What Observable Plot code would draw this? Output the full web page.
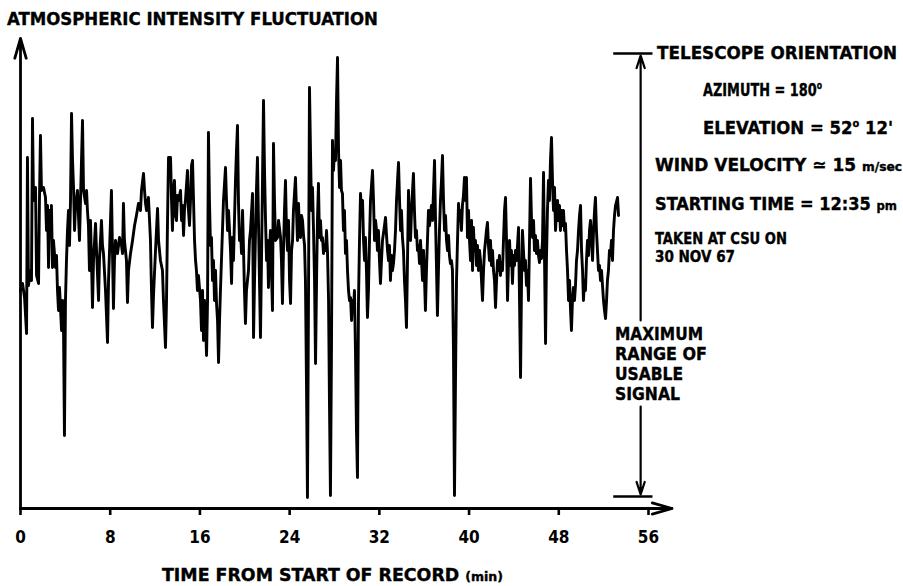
<!DOCTYPE html>
<html><head><meta charset="utf-8">
<script src="https://cdn.jsdelivr.net/npm/d3@7"></script>
<script src="https://cdn.jsdelivr.net/npm/@observablehq/plot@0.6"></script>
<style>
html,body{margin:0;padding:0;background:#fff;}
#chart{position:relative;width:903px;height:586px;overflow:hidden;background:#fff;}
#chart svg{position:absolute;left:0;top:0;}
.lbl{position:absolute;white-space:nowrap;font-family:"DejaVu Sans Condensed","DejaVu Sans",sans-serif;font-stretch:condensed;font-weight:bold;color:#000;line-height:0.8;transform-origin:0 0;-webkit-text-stroke:0.35px #000;}
.u{font-size:0.72em;}
</style></head><body><div id="chart"></div>
<script>
// ---- signal: time from start of record (min) and intensity (arbitrary units)
const timeA = [0.00,0.18,0.36,0.54,0.62,0.71,0.89,0.98,1.07,1.16,1.34,1.43,1.61,1.69,1.78,1.87,2.05,2.23,2.32,2.41,2.50,2.59,2.68,2.76,2.85,2.94,3.03,3.12,3.21,3.30,3.39,3.48,3.66,3.75,3.83,3.92,4.01,4.10,4.19,4.28,4.37,4.46,4.55,4.64,4.73,4.82,4.90,5.08,5.26,5.35,5.53,5.62,5.80,5.89,5.97,6.06,6.15,6.24,6.33,6.42,6.51,6.69,6.78,6.96,7.04,7.22,7.31,7.40,7.58,7.76,7.85,7.94,8.11,8.20,8.29,8.38,8.47,8.65,8.83,9.01,9.10,9.18,9.27,9.45,9.54,9.63,9.81,9.99,10.17,10.34,10.52,10.70,10.79,10.97,11.06,11.15,11.24,11.41,11.59,11.68,11.77,11.86,12.04,12.22,12.31,12.48,12.66,12.75,12.93,13.02,13.11,13.20];
const intensityA = [21.8,22.5,21.1,17.5,35.1,22.3,23.8,22.8,39.0,30.8,32.1,23.3,22.5,30.8,37.3,31.8,32.1,31.1,27.8,30.3,24.1,29.8,27.1,30.3,24.1,26.8,25.5,24.1,25.3,21.8,19.8,22.1,17.8,20.8,18.8,7.3,20.8,24.8,27.8,29.8,26.3,30.8,39.5,34.8,32.1,27.8,30.1,31.8,26.8,30.8,38.8,31.8,30.5,31.8,29.8,28.3,23.8,28.8,24.8,20.1,24.8,28.5,25.8,20.8,24.8,28.8,26.3,25.5,21.8,16.6,22.8,25.8,31.8,25.8,20.0,24.8,26.8,25.5,27.1,26.3,25.5,30.5,26.8,24.8,20.6,23.8,25.5,26.8,28.3,29.3,30.5,29.8,31.8,33.5,31.8,30.5,29.8,31.1,26.8,21.8,18.1,21.3,25.8,30.0,26.8,24.8,23.8,20.8,16.1,20.8,28.8,35.1];

const timeB = [13.38,13.47,13.55,13.64,13.73,13.82,13.91,14.00,14.09,14.27,14.36,14.45,14.54,14.62,14.71,14.89,14.98,15.07,15.16,15.25,15.34,15.43,15.52,15.61,15.69,15.78,15.87,16.05,16.14,16.23,16.32,16.41,16.50,16.59,16.68,16.76,16.85,16.94,17.03,17.12,17.21,17.30,17.39,17.48,17.57,17.66,17.75,17.83,17.92,18.01,18.10,18.28,18.37,18.46,18.55,18.73,18.82,18.90,18.99,19.08,19.17,19.26,19.35,19.44,19.53,19.62,19.71,19.80,19.89,19.97,20.06,20.15,20.33,20.42,20.51,20.69,20.78,20.87,20.96,21.04,21.13,21.22,21.31,21.40,21.49,21.58,21.67,21.76,21.85,21.94,22.03,22.11,22.20,22.29,22.38,22.47,22.56,22.65,22.74,22.92,23.01,23.19,23.27,23.36,23.45,23.54,23.63,23.72,23.81,23.90,23.99,24.08,24.17,24.26,24.34,24.52,24.61,24.70,24.79,24.88,24.97,25.06,25.15,25.24,25.33,25.41,25.50,25.59,25.68,25.77,25.86,25.95,26.04,26.13,26.22,26.31,26.40,26.48,26.57];
const intensityB = [35.1,30.8,27.8,31.8,32.8,29.3,28.8,31.3,30.8,31.8,28.8,30.3,27.3,29.8,30.8,33.8,29.8,28.3,30.8,34.3,34.8,30.8,26.8,24.8,23.8,21.8,23.3,20.8,17.8,21.8,16.8,20.8,18.8,15.3,20.8,37.6,30.8,26.3,27.1,22.8,24.8,20.8,23.8,20.5,18.8,14.6,18.8,21.8,24.8,27.8,30.8,34.1,30.8,27.8,29.8,25.8,22.5,27.1,24.8,28.8,32.8,35.8,38.3,30.5,26.8,27.8,25.5,29.8,25.8,21.8,18.5,21.8,23.8,26.8,27.8,31.5,17.1,22.8,27.8,31.8,35.1,28.8,22.8,17.1,24.8,32.8,40.8,33.8,28.8,24.8,26.8,22.1,25.8,27.8,23.8,19.8,36.5,30.8,26.8,27.1,28.8,27.1,24.8,20.5,25.8,29.8,32.8,27.8,25.8,28.8,22.8,20.5,25.8,26.8,29.8,33.1,29.8,26.8,30.5,27.8,27.1,29.3,28.8,27.3,26.3,22.8,12.8,1.1,20.8,42.1,35.8,29.8,32.1,27.8,22.8,14.5,22.8,28.8,32.5];

const timeC = [26.66,26.75,26.84,26.93,27.02,27.11,27.20,27.29,27.38,27.47,27.55,27.64,27.73,27.82,27.91,28.00,28.09,28.18,28.27,28.36,28.45,28.54,28.62,28.71,28.80,28.89,28.98,29.07,29.16,29.25,29.34,29.43,29.52,29.61,29.69,29.78,29.87,29.96,30.05,30.14,30.23,30.32,30.41,30.50,30.59,30.68,30.76,30.85,30.94,31.03,31.12,31.21,31.30,31.39,31.48,31.57,31.66,31.75,31.83,31.92,32.01,32.10,32.19,32.28,32.46,32.55,32.64,32.73,32.82,32.90,32.99,33.08,33.17,33.26,33.35,33.44,33.53,33.62,33.71,33.80,33.89,33.97,34.06,34.15,34.24,34.33,34.42,34.51,34.60,34.69,34.78,34.87,34.96,35.04,35.13,35.22,35.31,35.40,35.49,35.58,35.67,35.76,35.85,35.94,36.03,36.11,36.20,36.29,36.38,36.47,36.56,36.65,36.74,36.83,36.92,37.01,37.10,37.18,37.27,37.36,37.45,37.54,37.63,37.72,37.81,37.90,37.99,38.08,38.17,38.25,38.34,38.43,38.52,38.61,38.70,38.79,38.88,38.97,39.06,39.15,39.24,39.32,39.41,39.50,39.59,39.68];
const intensityC = [27.1,28.8,26.8,27.1,25.5,26.3,25.8,27.8,25.5,20.8,10.8,1.3,15.8,36.8,33.8,35.8,34.8,40.8,45.1,35.8,32.1,34.8,31.8,31.5,27.8,29.8,25.5,26.8,23.8,21.8,20.8,21.1,18.8,20.8,19.8,21.8,15.8,7.8,3.1,20.8,26.8,31.5,29.8,30.8,26.8,24.8,27.1,23.8,19.1,21.8,26.8,30.8,32.3,33.8,30.8,26.8,28.8,27.8,25.8,27.8,24.8,22.5,24.8,26.8,28.3,29.1,27.3,25.8,24.8,26.3,22.8,25.3,23.8,24.5,25.8,27.8,30.8,32.8,34.6,30.8,27.8,29.8,27.1,25.8,22.8,20.8,18.1,24.8,31.8,28.8,26.8,29.8,31.8,33.5,29.8,27.1,27.8,25.8,26.3,24.5,26.8,24.8,22.8,25.8,22.8,19.8,23.8,26.8,29.8,28.3,29.3,30.3,28.8,31.8,34.8,28.8,23.8,19.3,23.8,27.8,30.8,32.8,35.3,30.8,27.8,29.3,26.8,25.8,27.3,25.3,24.5,24.8,23.8,15.8,1.3,12.8,22.8,26.8,30.5,28.8,29.8,27.8,30.3,31.3,33.1,30.8];

const timeD = [39.77,39.86,39.95,40.04,40.13,40.22,40.31,40.39,40.48,40.57,40.66,40.75,40.84,40.93,41.02,41.11,41.20,41.29,41.38,41.47,41.55,41.64,41.73,41.82,41.91,42.00,42.09,42.18,42.27,42.36,42.45,42.54,42.62,42.71,42.80,42.89,42.98,43.07,43.16,43.25,43.34,43.43,43.52,43.61,43.69,43.78,43.87,43.96,44.05,44.14,44.23,44.32,44.41,44.50,44.59,44.68,44.76,44.85,44.94,45.03,45.12,45.21,45.30,45.39,45.48,45.57,45.66,45.75,45.83,45.92,46.01,46.10,46.19,46.28,46.37,46.46,46.55,46.64,46.73,46.82,46.90,46.99,47.08,47.17,47.26,47.35,47.44,47.53,47.62,47.71,47.80,47.89,47.97,48.06,48.15,48.24,48.33,48.42,48.51,48.60,48.69,48.78,48.87,48.96,49.05,49.13,49.22,49.31,49.40,49.49,49.58,49.67,49.76,49.85,49.94,50.03,50.12,50.20,50.29,50.38,50.47,50.56,50.65,50.74,50.83,50.92,51.01,51.10,51.19,51.27,51.36,51.45,51.54,51.63,51.72,51.81,51.90,51.99,52.08,52.17,52.26,52.34,52.43,52.52,52.61,52.70,52.79,52.88,52.97,53.06,53.24,53.33];
const intensityD = [33.1,27.1,29.8,26.8,24.8,28.8,23.8,28.1,25.8,26.8,24.3,26.3,23.8,25.8,24.8,22.8,20.8,23.8,25.8,26.8,27.8,28.6,26.3,24.8,26.8,24.3,25.8,23.8,22.8,20.1,22.8,24.8,23.8,25.3,23.3,24.6,23.8,26.8,29.8,31.1,26.8,20.8,24.8,26.8,24.3,25.8,22.5,25.3,24.3,25.8,24.8,26.3,28.1,20.8,13.1,22.8,27.8,25.8,23.8,24.8,22.3,23.8,20.8,26.8,33.0,28.8,27.1,28.8,25.8,27.3,25.5,26.8,25.3,24.6,25.8,25.0,26.8,33.6,24.8,16.5,24.8,29.8,32.8,30.8,34.8,37.1,32.8,29.8,32.1,27.8,29.8,30.8,28.8,30.3,27.8,29.8,28.3,29.8,27.8,28.5,25.8,23.8,20.8,22.8,19.8,17.8,20.8,22.1,20.8,22.3,24.8,25.8,27.8,29.3,30.3,25.8,23.8,20.8,22.8,21.8,24.8,26.8,25.3,27.8,28.8,26.8,24.8,27.8,29.8,31.1,27.8,25.8,23.8,24.3,22.8,23.8,22.3,20.8,19.8,19.0,20.8,22.8,23.8,25.8,25.3,26.8,24.8,27.8,29.3,30.3,31.1,29.3];

// ---- axes
const xTicks = [0, 8, 16, 24, 32, 40, 48, 56];
const xAxisEnd = 58.1;      // min, arrow tip of the time axis
const yAxisTop = 47;        // intensity units, arrow tip of the intensity axis

// ---- "maximum range of usable signal" annotation (data units)
const usableTime = 55.3;
const usableRange = [1.2, 45.5];
const usableCap = [52.9, 56.4];
const usableLabelGap = [10.2, 18.8];

// ---- texts
const titleText = "ATMOSPHERIC INTENSITY FLUCTUATION";
const xLabelText = "TIME FROM START OF RECORD <span class='u'>(min)</span>";
const noteLines = [
  "TELESCOPE ORIENTATION",
  "AZIMUTH = 180<sup style='font-size:0.6em'>o</sup>",
  "ELEVATION = 52<sup style='font-size:0.6em'>o</sup> 12'",
  "WIND VELOCITY &#8771; 15 <span class='u'>m/sec</span>",
  "STARTING TIME = 12:35 <span class='u'>pm</span>",
  "TAKEN AT CSU ON",
  "30 NOV 67"
];
const rangeLabelLines = ["MAXIMUM", "RANGE OF", "USABLE", "SIGNAL"];

// ---- build table
function zip(t, v) { const n = Math.min(t.length, v.length); if (t.length !== v.length) console.warn("length mismatch", t.length, v.length); return d3.range(n).map(i => ({t: t[i], v: v[i]})); }
const signal = [...zip(timeA, intensityA), ...zip(timeB, intensityB), ...zip(timeC, intensityC), ...zip(timeD, intensityD)];

const FONT = '"DejaVu Sans Condensed","DejaVu Sans",sans-serif';
const axisLines = [
  {x1: 0, y1: 0, x2: xAxisEnd, y2: 0},
  {x1: 0, y1: 0, x2: 0, y2: yAxisTop}
];
const rangeArrows = [
  {x1: usableTime, y1: usableLabelGap[1], x2: usableTime, y2: usableRange[1] - 0.2},
  {x1: usableTime, y1: usableLabelGap[0], x2: usableTime, y2: usableRange[0] + 0.2}
];
const rangeCaps = usableRange.map(v => ({v, x1: usableCap[0], x2: usableCap[1]}));

const plot = Plot.plot({
  width: 903, height: 586,
  marginLeft: 20, marginRight: 0, marginTop: 38, marginBottom: 78,
  style: {background: "transparent", overflow: "visible", fontFamily: FONT},
  x: {domain: [0, 78.74]},
  y: {domain: [0, 47], axis: null},
  marks: [
    Plot.axisX({ticks: xTicks, tickSize: 7, tickPadding: 15, strokeWidth: 2.6, label: null,
      fontSize: 17, fontWeight: "bold", fontFamily: FONT, tickFormat: d => String(d)}),
    Plot.line(signal, {x: "t", y: "v", stroke: "#000", strokeWidth: 2.9}),
    Plot.arrow(axisLines, {x1: "x1", y1: "y1", x2: "x2", y2: "y2", stroke: "#000", strokeWidth: 2.8, headLength: 11, headAngle: 32}),
    Plot.arrow(rangeArrows, {x1: "x1", y1: "y1", x2: "x2", y2: "y2", stroke: "#000", strokeWidth: 2.2, headLength: 9, headAngle: 36}),
    Plot.ruleY(rangeCaps, {y: "v", x1: "x1", x2: "x2", stroke: "#000", strokeWidth: 2.6})
  ]
});
const chart = document.getElementById("chart");
chart.appendChild(plot);

// ---- text overlays: [html, left, capTop, targetWidth, fontSize]
const FS = 18;
const layout = [
  [titleText, 7, 12, 371, FS],
  [xLabelText, 162, 568, 341, FS],
  [noteLines[0], 657, 46, 240, FS],
  [noteLines[1], 703, 82, 119, FS],
  [noteLines[2], 703, 120, 190, FS],
  [noteLines[3], 655, 158, 247, FS],
  [noteLines[4], 655, 197, 242, FS],
  [noteLines[5], 655, 233, 132, 15],
  [noteLines[6], 655, 251, 80, 15],
  [rangeLabelLines[0], 615, 327, 88, FS],
  [rangeLabelLines[1], 615, 347, 92, FS],
  [rangeLabelLines[2], 615, 367, 68, FS],
  [rangeLabelLines[3], 615, 387, 65, FS]
];
for (const [html, left, capTop, w, fs] of layout) {
  const el = document.createElement("div");
  el.className = "lbl";
  el.innerHTML = html;
  el.style.left = left + "px";
  el.style.fontSize = fs + "px";
  // cap top offset inside the line box (DejaVu metrics: ascent .928, descent .236, cap .729)
  const capOffset = (0.8 - 1.164) / 2 * fs + 0.928 * fs - 0.729 * fs;
  el.style.top = (capTop - capOffset) + "px";
  chart.appendChild(el);
  const mw = el.getBoundingClientRect().width;
  if (mw > 0) el.style.transform = `scaleX(${w / mw})`;
}
</script></body></html>
